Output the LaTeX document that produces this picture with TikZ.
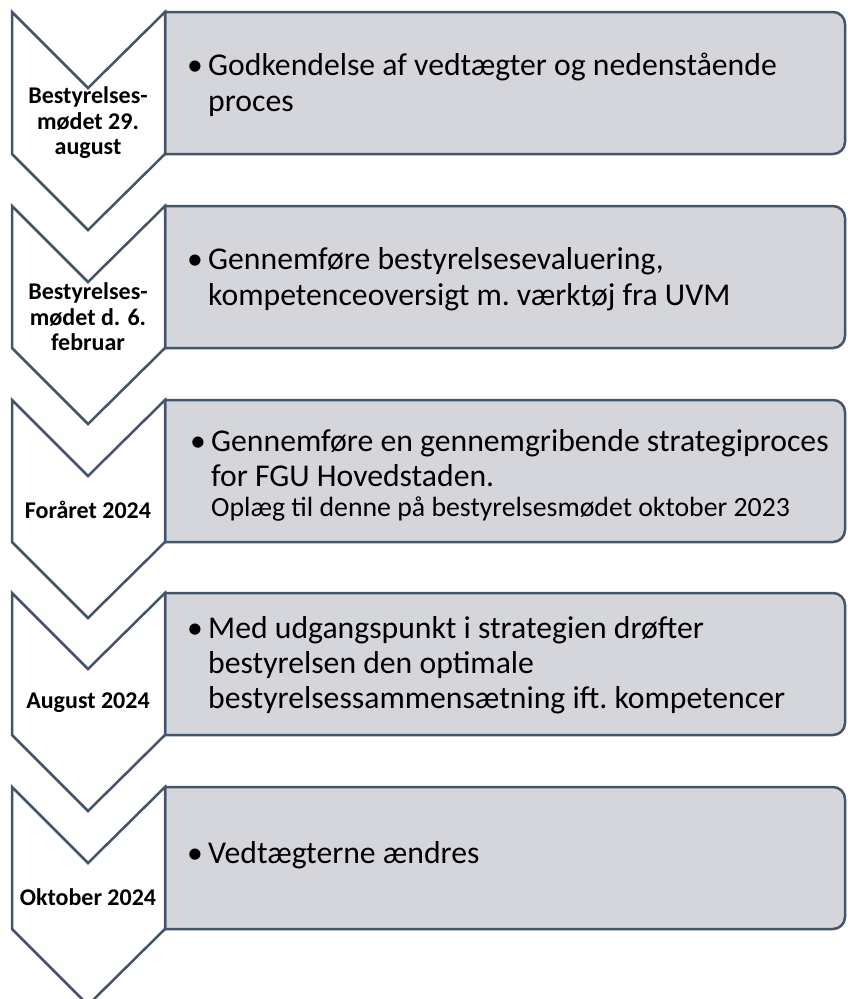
\documentclass[tikz,border=0pt]{standalone}
\usepackage{fontspec}
\setmainfont{Carlito}
\usepackage{tikz}
\definecolor{slate}{HTML}{44546A}
\definecolor{boxgray}{HTML}{D5D6DB}

\begin{document}
\begin{tikzpicture}[x=1pt,y=-1pt,
	chevron/.style={draw=slate,fill=white,line width=2.5pt,line join=miter},
	box/.style={draw=slate,fill=boxgray,line width=2.5pt},
	datelabel/.style={align=center,font=\fontsize{24}{25.5}\selectfont\bfseries},
	boxtext/.style={anchor=west,inner sep=0pt,font=\fontsize{31.7}{35.5}\selectfont\frenchspacing}]
	\useasboundingbox (0,0) rectangle (847,999);
	\draw[box] (165,12) [rounded corners=12pt] -- (845,12) -- (845,154) [sharp corners] -- (165,154) -- cycle;
	\draw[box] (165,206) [rounded corners=12pt] -- (845,206) -- (845,348) [sharp corners] -- (165,348) -- cycle;
	\draw[box] (165,400) [rounded corners=12pt] -- (845,400) -- (845,542) [sharp corners] -- (165,542) -- cycle;
	\draw[box] (165,593) [rounded corners=12pt] -- (845,593) -- (845,735) [sharp corners] -- (165,735) -- cycle;
	\draw[box] (165,787) [rounded corners=12pt] -- (845,787) -- (845,929) [sharp corners] -- (165,929) -- cycle;
	\draw[chevron] (12,12) -- (88,88) -- (165,12) -- (165,154) -- (88,230) -- (12,154) -- cycle;
	\draw[chevron] (12,206) -- (88,282) -- (165,206) -- (165,348) -- (88,424) -- (12,348) -- cycle;
	\draw[chevron] (12,400) -- (88,476) -- (165,400) -- (165,542) -- (88,618) -- (12,542) -- cycle;
	\draw[chevron] (12,593) -- (88,669) -- (165,593) -- (165,735) -- (88,811) -- (12,735) -- cycle;
	\draw[chevron] (12,787) -- (88,863) -- (165,787) -- (165,929) -- (88,1005) -- (12,929) -- cycle;
	\node[datelabel] (d1) at (88,123) {Bestyrelses-\\mødet 29.\\august};
	\node[datelabel] (d2) at (88,317) {Bestyrelses-\\mødet d. 6.\\februar};
	\node[datelabel] (d3) at (88,510) {Foråret 2024};
	\node[datelabel] (d4) at (88,703) {August 2024};
	\node[datelabel] (d5) at (88,897) {Oktober 2024};
	\node[boxtext] (t1) at (187,86.5) {\makebox[21pt][l]{\textbullet}\begin{tabular}[t]{@{}l@{}}Godkendelse af vedtægter og nedenstående\\proces\end{tabular}};
	\node[boxtext] (t2) at (187,280.5) {\makebox[21pt][l]{\textbullet}\begin{tabular}[t]{@{}l@{}}Gennemføre bestyrelsesevaluering,\\kompetenceoversigt m. værktøj fra UVM\end{tabular}};
	\node[boxtext] (t3) at (190,477) {\makebox[21pt][l]{\textbullet}\begin{tabular}[t]{@{}l@{}}Gennemføre en gennemgribende strategiproces\\for FGU Hovedstaden.\\[-5.5pt]{\fontsize{27.8}{30}\selectfont Oplæg til denne på bestyrelsesmødet oktober 2023}\end{tabular}};
	\node[boxtext,font=\fontsize{31.7}{35}\selectfont\frenchspacing] (t4) at (187,666) {\makebox[21pt][l]{\textbullet}\begin{tabular}[t]{@{}l@{}}Med udgangspunkt i strategien drøfter\\bestyrelsen den optimale\\bestyrelsessammensætning ift. kompetencer\end{tabular}};
	\node[boxtext] (t5) at (187,855) {\makebox[21pt][l]{\textbullet}Vedtægterne ændres};
\end{tikzpicture}
\end{document}
